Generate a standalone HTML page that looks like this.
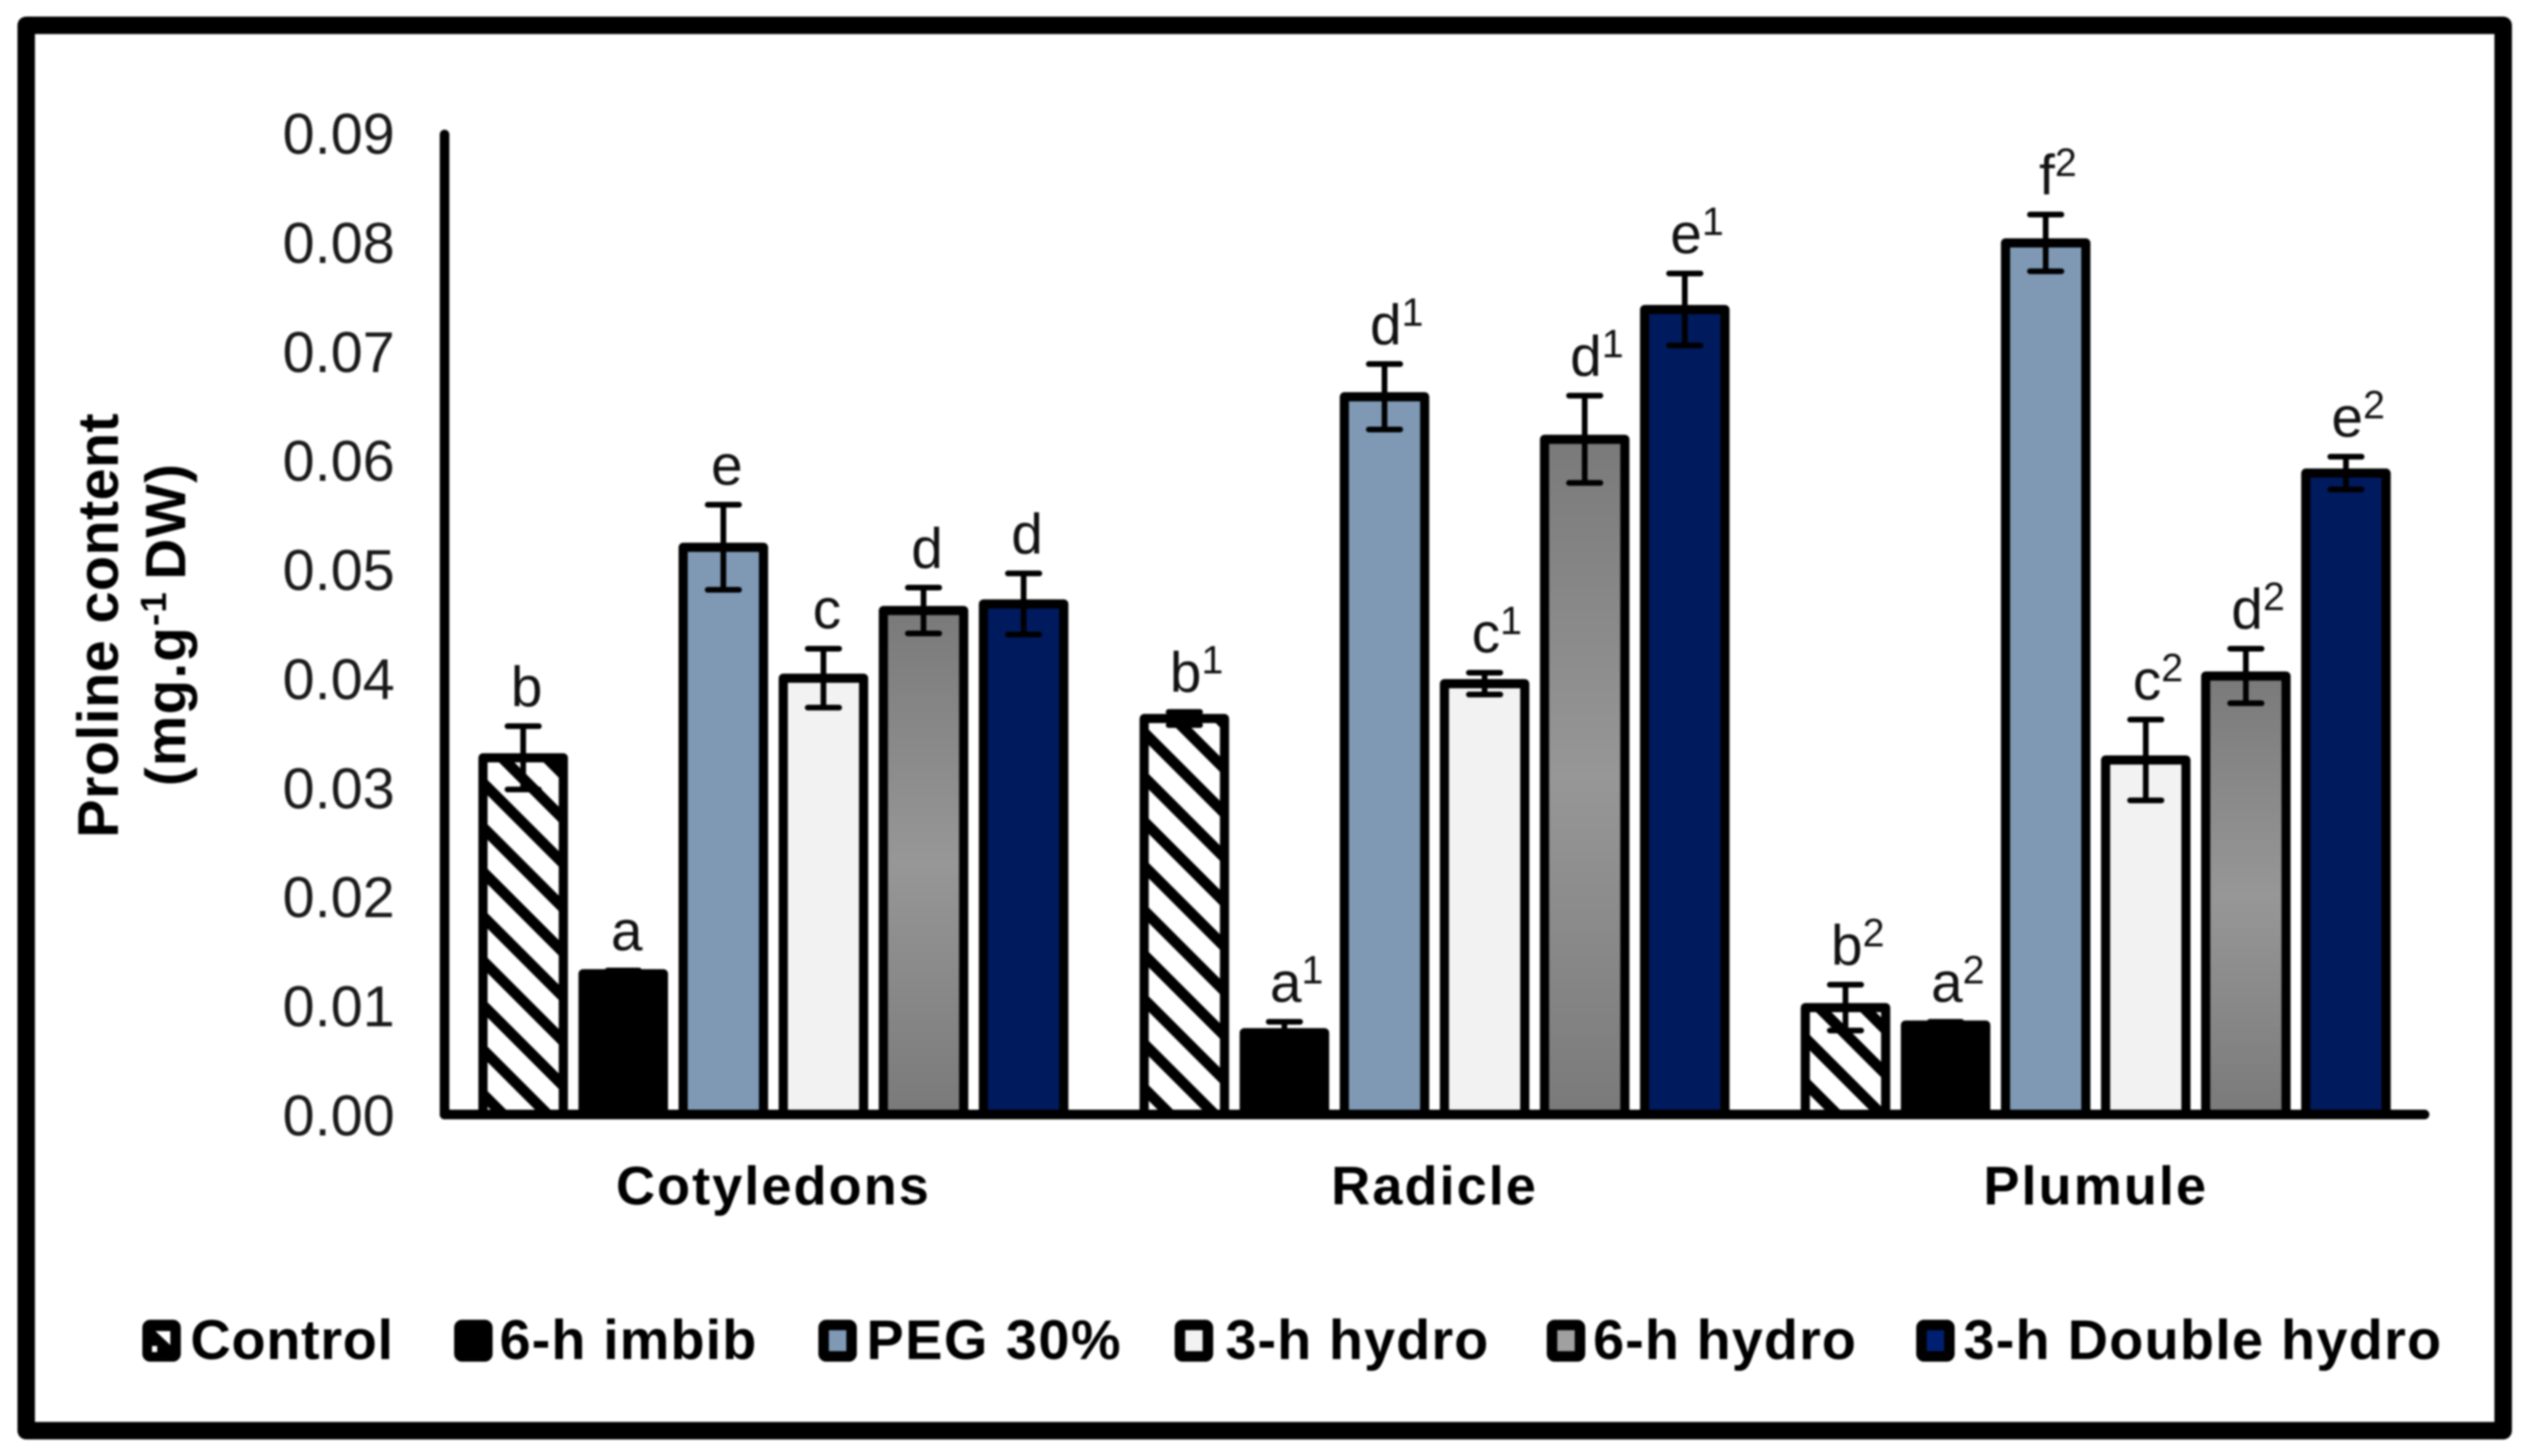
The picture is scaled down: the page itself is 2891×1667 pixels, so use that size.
<!DOCTYPE html>
<html lang="en">
<head>
<meta charset="utf-8">
<title>Proline content chart</title>
<style>
html,body{margin:0;padding:0;background:#fff;width:2891px;height:1667px;overflow:hidden}
svg{display:block;font-family:"Liberation Sans",Arial,sans-serif;filter:blur(1.1px)}
</style>
</head>
<body>
<svg id="chart" xmlns="http://www.w3.org/2000/svg" width="2891" height="1667" viewBox="0 0 2891 1667">
<defs>
<pattern id="hatch" patternUnits="userSpaceOnUse" width="36" height="36" patternTransform="translate(4,0) rotate(-45)">
<rect width="36" height="36" fill="#fff"/>
<rect width="12.5" height="36" fill="#000"/>
</pattern>
<linearGradient id="grey-grad" x1="0" y1="0" x2="0" y2="1">
<stop offset="0" stop-color="#7a7a7a"/>
<stop offset="0.5" stop-color="#979797"/>
<stop offset="1" stop-color="#7a7a7a"/>
</linearGradient>
</defs>
<rect x="30" y="29" width="2836" height="1609" fill="#fff" stroke="#000" stroke-width="20" stroke-linejoin="round"/>
<g id="plot"></g>
<g font-weight="bold" fill="#000" text-anchor="middle">
<text transform="translate(135,716) rotate(-90)" font-size="66" letter-spacing="0.4">Proline content</text>
<text transform="translate(212,715) rotate(-90)" font-size="65" letter-spacing="1.3">(mg.g<tspan font-size="42" dy="-22">-1 </tspan><tspan dy="22">DW)</tspan></text>
</g>
<g id="legend"></g>
<g fill="#fff">
<path d="M178 1524H195V1540Z"/>
<rect x="174" y="1541" width="6" height="7"/>
</g>
</svg>
<script>
const categories = ["Cotyledons", "Radicle", "Plumule"];
const yTicks = ["0.00", "0.01", "0.02", "0.03", "0.04", "0.05", "0.06", "0.07", "0.08", "0.09"];
const seriesNames = ["Control", "6-h imbib", "PEG 30%", "3-h hydro", "6-h hydro", "3-h Double hydro"];

const controlValues = [0.0327, 0.0363, 0.0098];
const imbibValues = [0.0129, 0.0075, 0.0082];
const pegValues = [0.0520, 0.0658, 0.0799];
const hydro3Values = [0.0400, 0.0395, 0.0325];
const hydro6Values = [0.0462, 0.0619, 0.0402];
const doubleValues = [0.0468, 0.0738, 0.0588];

const controlErrors = [0.0029, 0.0006, 0.0021];
const imbibErrors = [0.0003, 0.0010, 0.0003];
const pegErrors = [0.0039, 0.0030, 0.0026];
const hydro3Errors = [0.0027, 0.0010, 0.0037];
const hydro6Errors = [0.0021, 0.0040, 0.0025];
const doubleErrors = [0.0028, 0.0033, 0.0015];

const controlLetters = ["b", "b", "b"];
const imbibLetters = ["a", "a", "a"];
const pegLetters = ["e", "d", "f"];
const hydro3Letters = ["c", "c", "c"];
const hydro6Letters = ["d", "d", "d"];
const doubleLetters = ["d", "e", "e"];
const groupSuperscripts = ["", "1", "2"];

const seriesValues = [controlValues, imbibValues, pegValues, hydro3Values, hydro6Values, doubleValues];
const seriesErrors = [controlErrors, imbibErrors, pegErrors, hydro3Errors, hydro6Errors, doubleErrors];
const seriesLetters = [controlLetters, imbibLetters, pegLetters, hydro3Letters, hydro6Letters, doubleLetters];
const seriesFills = ["url(#hatch)", "#000000", "#7f99b5", "#f2f2f2", "url(#grey-grad)", "#001a5e"];
const legendFills = ["#000000", "#000000", "#7f99b5", "#f2f2f2", "#a0a0a0", "#001f70"];

const NS = "http://www.w3.org/2000/svg";
const plot = document.getElementById("plot");
const legend = document.getElementById("legend");

const y0 = 1276, yMaxPx = 152, yMax = 0.09;
const axisX = 507, bandW = 757, barStep = 114.6, barW = 92;

function yScale(v) { return y0 - (v / yMax) * (y0 - yMaxPx); }
function bandCenter(i) { return axisX + bandW * (i + 0.5); }
function barCenter(i, s) { return bandCenter(i) + (s - (seriesValues.length - 1) / 2) * barStep; }

function make(tag, attrs, parent) {
  const e = document.createElementNS(NS, tag);
  for (const k in attrs) e.setAttribute(k, attrs[k]);
  parent.appendChild(e);
  return e;
}

/* tick labels */
yTicks.forEach(function (t) {
  const label = make("text", { x: 452, y: yScale(parseFloat(t)) + 24, "font-size": 66, "text-anchor": "end", fill: "#1a1a1a" }, plot);
  
  
  label.textContent = t;
});

/* bars, error bars, letters */
categories.forEach(function (cat, i) {
  seriesValues.forEach(function (vals, s) {
    const cx = barCenter(i, s);
    const top = yScale(vals[i]);
    const bar = make("rect", {
      x: cx - barW / 2, y: top, width: barW, height: y0 - top,
      fill: seriesFills[s], stroke: "#000", "stroke-width": 10.5, "stroke-linejoin": "round"
    }, plot);
    
    

    const err = seriesErrors[s][i];
    const hi = yScale(vals[i] + err), lo = yScale(vals[i] - err);
    const eb = make("path", {
      d: "M" + cx + " " + hi + "V" + lo + "M" + (cx - 18) + " " + hi + "H" + (cx + 18) + "M" + (cx - 18) + " " + lo + "H" + (cx + 18),
      stroke: "#000", "stroke-width": 6.5, fill: "none", "stroke-linecap": "round"
    }, plot);
    
    

    const sup = groupSuperscripts[i];
    const txt = make("text", {
      x: cx + (sup ? 14 : 4), y: hi - 23, "font-size": 65, "text-anchor": "middle", fill: "#111"
    }, plot);
    
    
    txt.appendChild(document.createTextNode(seriesLetters[s][i]));
    if (sup) {
      const ts = make("tspan", { "font-size": 45, dy: -21 }, txt);
      ts.textContent = sup;
    }
  });

  const catLabel = make("text", {
    x: bandCenter(i), y: 1379, "font-size": 62, "font-weight": "bold", "text-anchor": "middle", "letter-spacing": 2.3, fill: "#000"
  }, plot);
  
  
  catLabel.textContent = cat;
});

/* axes */
const yAxis = make("path", { d: "M509 154V1276", stroke: "#000", "stroke-width": 11, fill: "none", "stroke-linecap": "round" }, plot);


const xAxis = make("path", { d: "M509 1276H2776", stroke: "#000", "stroke-width": 11, fill: "none", "stroke-linecap": "round" }, plot);



/* legend */
const legendMarkerX = [163, 520, 937, 1345, 1771, 2194];
const legendTextX = [218, 572, 992, 1403, 1824, 2248];
const legendTextEnd = [450, 866, 1283, 1704, 2125, 2795];
seriesNames.forEach(function (name, s) {
  const m = make("rect", {
    x: legendMarkerX[s] + 6, y: 1517, width: 32, height: 36, rx: 3,
    fill: legendFills[s], stroke: "#000", "stroke-width": 12, "stroke-linejoin": "round"
  }, legend);
  
  
  const t = make("text", {
    x: legendTextX[s], y: 1556, "font-size": 64, "font-weight": "bold", fill: "#000",
    textLength: legendTextEnd[s] - legendTextX[s], lengthAdjust: "spacing"
  }, legend);
  
  
  t.textContent = name;
});
</script>
</body>
</html>
